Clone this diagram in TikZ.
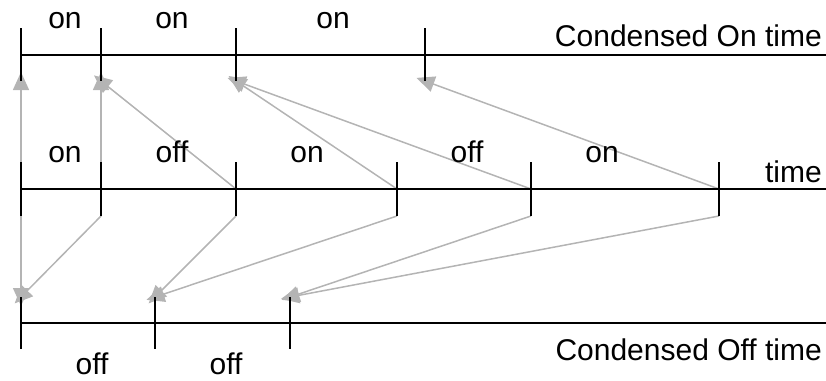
\documentclass[tikz,border=0pt]{standalone}
\usepackage{fontspec}
\setmainfont{Liberation Sans}
\usetikzlibrary{arrows.meta}
\definecolor{arrgray}{RGB}{180,180,180}
\begin{document}
\begin{tikzpicture}[x=1pt,y=-1pt,
  axisline/.style={line width=2pt,black},
  tickline/.style={line width=2pt,black},
  conn/.style={line width=1.5pt,arrgray,-{Triangle[length=18pt,width=16pt]},shorten >=-9pt},
  lbl/.style={anchor=base,inner sep=0pt,font=\fontsize{30}{31}\selectfont},
  rlbl/.style={anchor=base east,inner sep=0pt,font=\fontsize{30}{31}\selectfont}]
\useasboundingbox (0,0) rectangle (826,380);
% top line coordinates
\coordinate (TL) at (21,55);  \coordinate (TR) at (826,55);
\foreach \n/\x in {0/21,1/101,2/236,3/425}{
  \coordinate (tt\n) at (\x,28);
  \coordinate (tb\n) at (\x,81);
}
% middle line coordinates
\coordinate (ML) at (21,189); \coordinate (MR) at (826,189);
\foreach \n/\x in {0/21,1/101,2/236,3/397,4/531,5/719}{
  \coordinate (mt\n) at (\x,162);
  \coordinate (mm\n) at (\x,189);
  \coordinate (mb\n) at (\x,216);
}
% bottom line coordinates
\coordinate (BL) at (21,323); \coordinate (BR) at (826,323);
\foreach \n/\x in {0/21,1/155,2/290}{
  \coordinate (bt\n) at (\x,297);
  \coordinate (bb\n) at (\x,349);
}
% connectors (grey)
\draw[conn] (mm0) -- (tb0);
\draw[conn] (mm1) -- (tb1);
\draw[conn] (mm2) -- (tb1);
\draw[conn] (mm3) -- (tb2);
\draw[conn] (mm4) -- (tb2);
\draw[conn] (mm5) -- (tb3);
\draw[conn] (mb0) -- (bt0);
\draw[conn] (mb1) -- (bt0);
\draw[conn] (mb2) -- (bt1);
\draw[conn] (mb3) -- (bt1);
\draw[conn] (mb4) -- (bt2);
\draw[conn] (mb5) -- (bt2);
% axes
\draw[axisline] (TL) -- (TR);
\draw[axisline] (ML) -- (MR);
\draw[axisline] (BL) -- (BR);
\foreach \n in {0,...,3}{\draw[tickline] (tt\n) -- (tb\n);}
\foreach \n in {0,...,5}{\draw[tickline] (mt\n) -- (mb\n);}
\foreach \n in {0,...,2}{\draw[tickline] (bt\n) -- (bb\n);}
% labels
\node[lbl] (ton1) at (65,28) {on};
\node[lbl] (ton2) at (172,28) {on};
\node[lbl] (ton3) at (333,28) {on};
\node[rlbl] (tname) at (822,46) {Condensed On time};
\node[lbl] (mon1) at (65,162) {on};
\node[lbl] (moff1) at (172,162) {off};
\node[lbl] (mon2) at (307,162) {on};
\node[lbl] (moff2) at (467,162) {off};
\node[lbl] (mon3) at (602,162) {on};
\node[rlbl] (mname) at (822,182) {time};
\node[lbl] (boff1) at (92,374) {off};
\node[lbl] (boff2) at (226,374) {off};
\node[rlbl] (bname) at (822,360) {Condensed Off time};
\end{tikzpicture}
\end{document}
